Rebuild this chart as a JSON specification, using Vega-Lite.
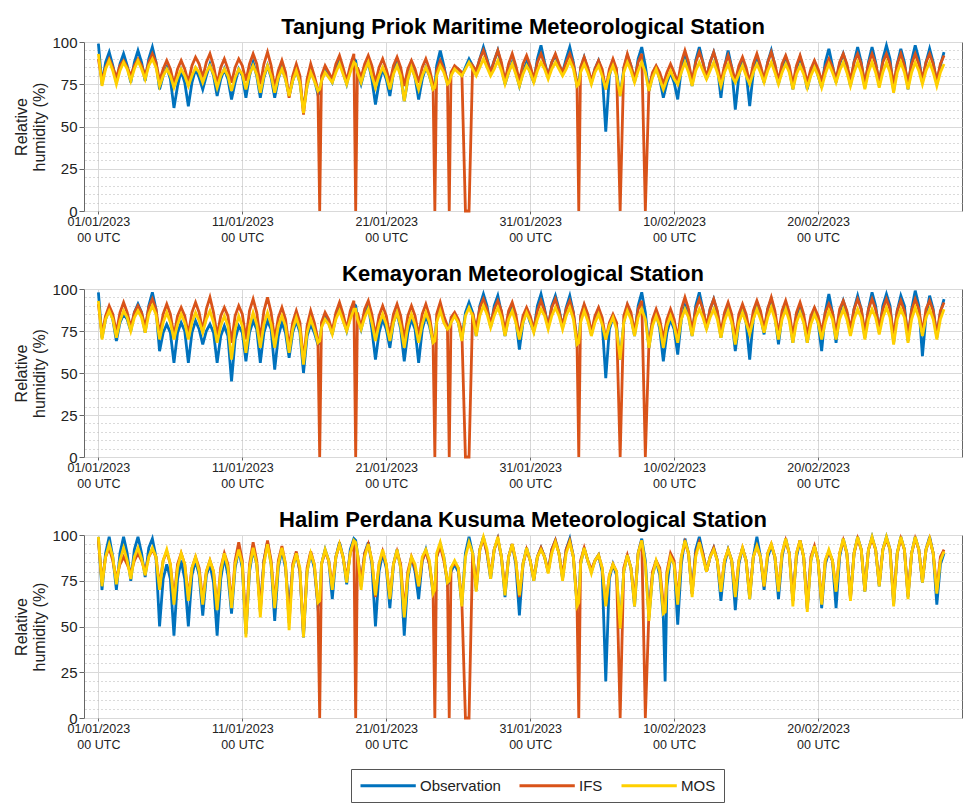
{
"$schema": "https://vega.github.io/schema/vega-lite/v6.json",
"background": "white",
"padding": {"left": 13, "top": 15, "right": 5, "bottom": 5},
"spacing": 18,
"config": {
 "font": "Liberation Sans",
 "view": {"stroke": "#666", "strokeWidth": 1},
 "axis": {"domain": false, "gridColor": "#d9d9d9", "gridWidth": 1, "tickColor": "#666", "labelColor": "#222", "titleColor": "#222"},
 "title": {"fontSize": 22, "fontWeight": "bold", "color": "#000", "offset": 0, "dy": 8},
 "legend": {"symbolType": "M-1,0H6.9", "symbolSize": 196, "symbolStrokeWidth": 2.8, "labelFontSize": 15, "labelColor": "#222", "strokeColor": "#555", "padding": 8, "fillColor": "white", "columnPadding": 12, "labelOffset": 44}
},
"datasets": {
"tp": [
{"d":0,"o":99,"i":90,"m":93},{"d":0.25,"o":75,"i":77,"m":74},{"d":0.5,"o":88,"i":85,"m":84},{"d":0.75,"o":94,"i":90,"m":89},
{"d":1,"o":86,"i":85,"m":83},{"d":1.25,"o":76,"i":79,"m":75},{"d":1.5,"o":87,"i":86,"m":83},{"d":1.75,"o":93,"i":89,"m":88},
{"d":2,"o":86,"i":85,"m":84},{"d":2.25,"o":76,"i":80,"m":77},{"d":2.5,"o":88,"i":86,"m":84},{"d":2.75,"o":95,"i":90,"m":89},
{"d":3,"o":88,"i":86,"m":84},{"d":3.25,"o":77,"i":80,"m":78},{"d":3.5,"o":90,"i":88,"m":86},{"d":3.75,"o":97,"i":93,"m":90},
{"d":4,"o":88,"i":88,"m":85},{"d":4.25,"o":72,"i":77,"m":74},{"d":4.5,"o":80,"i":84,"m":80},{"d":4.75,"o":85,"i":89,"m":84},
{"d":5,"o":78,"i":84,"m":80},{"d":5.25,"o":61,"i":75,"m":73},{"d":5.5,"o":74,"i":84,"m":79},{"d":5.75,"o":83,"i":89,"m":84},
{"d":6,"o":76,"i":84,"m":80},{"d":6.25,"o":62,"i":76,"m":74},{"d":6.5,"o":76,"i":86,"m":80},{"d":6.75,"o":84,"i":91,"m":85},
{"d":7,"o":79,"i":87,"m":82},{"d":7.25,"o":72,"i":79,"m":76},{"d":7.5,"o":80,"i":88,"m":82},{"d":7.75,"o":87,"i":93,"m":86},
{"d":8,"o":80,"i":86,"m":81},{"d":8.25,"o":68,"i":75,"m":73},{"d":8.5,"o":78,"i":85,"m":80},{"d":8.75,"o":84,"i":90,"m":84},
{"d":9,"o":78,"i":84,"m":80},{"d":9.25,"o":66,"i":76,"m":71},{"d":9.5,"o":76,"i":85,"m":79},{"d":9.75,"o":84,"i":90,"m":84},
{"d":10,"o":80,"i":86,"m":81},{"d":10.25,"o":67,"i":77,"m":72},{"d":10.5,"o":80,"i":87,"m":81},{"d":10.75,"o":88,"i":93,"m":86},
{"d":11,"o":80,"i":87,"m":81},{"d":11.25,"o":67,"i":75,"m":70},{"d":11.5,"o":79,"i":87,"m":80},{"d":11.75,"o":86,"i":94,"m":86},
{"d":12,"o":79,"i":86,"m":80},{"d":12.25,"o":67,"i":73,"m":70},{"d":12.5,"o":78,"i":83,"m":79},{"d":12.75,"o":85,"i":89,"m":84},
{"d":13,"o":78,"i":82,"m":78},{"d":13.25,"o":68,"i":67,"m":68},{"d":13.5,"o":77,"i":80,"m":77},{"d":13.75,"o":83,"i":87,"m":83},
{"d":14,"o":76,"i":80,"m":76},{"d":14.25,"o":60,"i":57,"m":58},{"d":14.5,"o":74,"i":78,"m":74},{"d":14.75,"o":82,"i":87,"m":82},
{"d":15,"o":78,"i":80,"m":77},{"d":15.25,"o":69,"i":72,"m":71},{"d":15.375,"o":70,"i":0,"m":72},{"d":15.5,"o":77,"i":80,"m":77},{"d":15.75,"o":83,"i":86,"m":82},
{"d":16,"o":80,"i":82,"m":79},{"d":16.25,"o":76,"i":78,"m":76},{"d":16.5,"o":84,"i":87,"m":82},{"d":16.75,"o":89,"i":92,"m":87},
{"d":17,"o":82,"i":85,"m":81},{"d":17.25,"o":75,"i":77,"m":75},{"d":17.5,"o":84,"i":86,"m":82},{"d":17.75,"o":90,"i":93,"m":88},{"d":17.875,"o":89,"i":0,"m":87},
{"d":18,"o":82,"i":85,"m":82},{"d":18.25,"o":75,"i":79,"m":76},{"d":18.5,"o":83,"i":87,"m":83},{"d":18.75,"o":88,"i":92,"m":88},
{"d":19,"o":78,"i":86,"m":80},{"d":19.25,"o":63,"i":76,"m":73},{"d":19.5,"o":76,"i":85,"m":80},{"d":19.75,"o":84,"i":90,"m":85},
{"d":20,"o":78,"i":84,"m":80},{"d":20.25,"o":68,"i":76,"m":72},{"d":20.5,"o":82,"i":86,"m":81},{"d":20.75,"o":89,"i":91,"m":86},
{"d":21,"o":80,"i":85,"m":80},{"d":21.25,"o":65,"i":74,"m":65},{"d":21.5,"o":78,"i":84,"m":78},{"d":21.75,"o":86,"i":89,"m":85},
{"d":22,"o":79,"i":84,"m":79},{"d":22.25,"o":66,"i":76,"m":72},{"d":22.5,"o":78,"i":85,"m":80},{"d":22.75,"o":85,"i":90,"m":85},
{"d":23,"o":80,"i":84,"m":80},{"d":23.25,"o":72,"i":75,"m":72},{"d":23.375,"o":73,"i":0,"m":73},{"d":23.5,"o":86,"i":83,"m":80},{"d":23.75,"o":95,"i":89,"m":86},
{"d":24,"o":86,"i":84,"m":82},{"d":24.25,"o":75,"i":77,"m":75},{"d":24.375,"o":76,"i":0,"m":76},{"d":24.5,"o":81,"i":82,"m":80},{"d":24.75,"o":85,"i":86,"m":84},
{"d":25,"o":84,"i":84,"m":82},{"d":25.25,"o":80,"i":82,"m":80},{"d":25.5,"o":85,"i":0,"m":84},{"d":25.75,"o":90,"i":0,"m":88},
{"d":26,"o":86,"i":86,"m":84},{"d":26.25,"o":82,"i":83,"m":80},{"d":26.5,"o":90,"i":90,"m":85},{"d":26.75,"o":97,"i":95,"m":90},
{"d":27,"o":90,"i":89,"m":85},{"d":27.25,"o":82,"i":82,"m":80},{"d":27.5,"o":89,"i":89,"m":84},{"d":27.75,"o":95,"i":95,"m":89},
{"d":28,"o":86,"i":88,"m":83},{"d":28.25,"o":75,"i":77,"m":75},{"d":28.5,"o":82,"i":87,"m":82},{"d":28.75,"o":88,"i":93,"m":87},
{"d":29,"o":82,"i":86,"m":81},{"d":29.25,"o":74,"i":77,"m":74},{"d":29.5,"o":82,"i":87,"m":81},{"d":29.75,"o":88,"i":92,"m":86},
{"d":30,"o":82,"i":86,"m":82},{"d":30.25,"o":76,"i":78,"m":76},{"d":30.5,"o":90,"i":88,"m":83},{"d":30.75,"o":98,"i":93,"m":88},
{"d":31,"o":88,"i":87,"m":84},{"d":31.25,"o":80,"i":80,"m":78},{"d":31.5,"o":88,"i":88,"m":84},{"d":31.75,"o":92,"i":93,"m":88},
{"d":32,"o":86,"i":87,"m":84},{"d":32.25,"o":82,"i":82,"m":80},{"d":32.5,"o":90,"i":88,"m":84},{"d":32.75,"o":97,"i":93,"m":89},
{"d":33,"o":88,"i":87,"m":84},{"d":33.25,"o":74,"i":76,"m":74},{"d":33.375,"o":76,"i":0,"m":75},{"d":33.5,"o":84,"i":85,"m":82},{"d":33.75,"o":91,"i":91,"m":87},
{"d":34,"o":84,"i":85,"m":82},{"d":34.25,"o":76,"i":77,"m":75},{"d":34.5,"o":84,"i":84,"m":82},{"d":34.75,"o":89,"i":89,"m":86},
{"d":35,"o":82,"i":84,"m":80},{"d":35.25,"o":47,"i":72,"m":72},{"d":35.5,"o":80,"i":84,"m":81},{"d":35.75,"o":88,"i":90,"m":86},
{"d":36,"o":82,"i":84,"m":80},{"d":36.25,"o":68,"i":0,"m":68},{"d":36.5,"o":84,"i":85,"m":82},{"d":36.75,"o":92,"i":93,"m":88},
{"d":37,"o":86,"i":86,"m":83},{"d":37.25,"o":76,"i":78,"m":76},{"d":37.5,"o":90,"i":88,"m":83},{"d":37.75,"o":97,"i":93,"m":88},
{"d":38,"o":86,"i":0,"m":82},{"d":38.25,"o":71,"i":73,"m":71},{"d":38.5,"o":80,"i":82,"m":79},{"d":38.75,"o":85,"i":86,"m":84},
{"d":39,"o":78,"i":82,"m":78},{"d":39.25,"o":67,"i":75,"m":72},{"d":39.5,"o":76,"i":82,"m":78},{"d":39.75,"o":82,"i":87,"m":83},
{"d":40,"o":76,"i":82,"m":78},{"d":40.25,"o":66,"i":76,"m":75},{"d":40.5,"o":84,"i":88,"m":82},{"d":40.75,"o":93,"i":95,"m":88},
{"d":41,"o":86,"i":88,"m":82},{"d":41.25,"o":74,"i":77,"m":74},{"d":41.5,"o":89,"i":88,"m":83},{"d":41.75,"o":97,"i":94,"m":88},
{"d":42,"o":88,"i":88,"m":83},{"d":42.25,"o":78,"i":79,"m":78},{"d":42.5,"o":88,"i":88,"m":83},{"d":42.75,"o":94,"i":94,"m":88},
{"d":43,"o":86,"i":87,"m":82},{"d":43.25,"o":67,"i":76,"m":74},{"d":43.5,"o":85,"i":86,"m":82},{"d":43.75,"o":95,"i":92,"m":87},
{"d":44,"o":85,"i":85,"m":80},{"d":44.25,"o":60,"i":77,"m":76},{"d":44.5,"o":80,"i":86,"m":81},{"d":44.75,"o":90,"i":91,"m":86},
{"d":45,"o":82,"i":85,"m":80},{"d":45.25,"o":62,"i":76,"m":75},{"d":45.5,"o":82,"i":87,"m":82},{"d":45.75,"o":92,"i":93,"m":87},
{"d":46,"o":84,"i":86,"m":82},{"d":46.25,"o":76,"i":78,"m":76},{"d":46.5,"o":88,"i":88,"m":83},{"d":46.75,"o":95,"i":94,"m":88},
{"d":47,"o":86,"i":87,"m":82},{"d":47.25,"o":75,"i":77,"m":75},{"d":47.5,"o":85,"i":87,"m":82},{"d":47.75,"o":91,"i":92,"m":87},
{"d":48,"o":84,"i":86,"m":82},{"d":48.25,"o":72,"i":75,"m":72},{"d":48.5,"o":84,"i":86,"m":81},{"d":48.75,"o":91,"i":92,"m":86},
{"d":49,"o":83,"i":85,"m":81},{"d":49.25,"o":72,"i":76,"m":73},{"d":49.5,"o":82,"i":84,"m":80},{"d":49.75,"o":88,"i":89,"m":85},
{"d":50,"o":80,"i":84,"m":80},{"d":50.25,"o":73,"i":77,"m":73},{"d":50.5,"o":88,"i":85,"m":81},{"d":50.75,"o":96,"i":90,"m":87},
{"d":51,"o":86,"i":85,"m":82},{"d":51.25,"o":76,"i":78,"m":76},{"d":51.5,"o":87,"i":88,"m":83},{"d":51.75,"o":93,"i":93,"m":88},
{"d":52,"o":86,"i":87,"m":82},{"d":52.25,"o":74,"i":77,"m":74},{"d":52.5,"o":88,"i":88,"m":82},{"d":52.75,"o":97,"i":93,"m":88},
{"d":53,"o":88,"i":87,"m":82},{"d":53.25,"o":73,"i":76,"m":72},{"d":53.5,"o":88,"i":87,"m":82},{"d":53.75,"o":97,"i":93,"m":88},
{"d":54,"o":88,"i":87,"m":82},{"d":54.25,"o":74,"i":77,"m":73},{"d":54.5,"o":90,"i":88,"m":82},{"d":54.75,"o":98,"i":93,"m":88},
{"d":55,"o":90,"i":87,"m":82},{"d":55.25,"o":71,"i":75,"m":70},{"d":55.5,"o":87,"i":87,"m":82},{"d":55.75,"o":96,"i":93,"m":88},
{"d":56,"o":88,"i":86,"m":82},{"d":56.25,"o":72,"i":76,"m":72},{"d":56.5,"o":89,"i":87,"m":82},{"d":56.75,"o":98,"i":93,"m":88},
{"d":57,"o":90,"i":87,"m":83},{"d":57.25,"o":76,"i":78,"m":75},{"d":57.5,"o":88,"i":88,"m":83},{"d":57.75,"o":96,"i":93,"m":88},
{"d":58,"o":88,"i":87,"m":82},{"d":58.25,"o":75,"i":77,"m":74},{"d":58.5,"o":86,"i":87,"m":82},{"d":58.75,"o":94,"i":92,"m":87}
],
"km": [
{"d":0,"o":98,"i":91,"m":93},{"d":0.25,"o":71,"i":73,"m":70},{"d":0.5,"o":82,"i":84,"m":82},{"d":0.75,"o":88,"i":90,"m":87},
{"d":1,"o":82,"i":85,"m":82},{"d":1.25,"o":69,"i":74,"m":71},{"d":1.5,"o":80,"i":86,"m":81},{"d":1.75,"o":85,"i":92,"m":87},
{"d":2,"o":82,"i":86,"m":83},{"d":2.25,"o":75,"i":77,"m":75},{"d":2.5,"o":86,"i":86,"m":83},{"d":2.75,"o":91,"i":90,"m":87},
{"d":3,"o":86,"i":86,"m":83},{"d":3.25,"o":74,"i":77,"m":74},{"d":3.5,"o":90,"i":89,"m":85},{"d":3.75,"o":98,"i":94,"m":90},
{"d":4,"o":88,"i":88,"m":85},{"d":4.25,"o":63,"i":73,"m":70},{"d":4.5,"o":74,"i":85,"m":80},{"d":4.75,"o":79,"i":91,"m":86},
{"d":5,"o":74,"i":85,"m":80},{"d":5.25,"o":56,"i":72,"m":70},{"d":5.5,"o":74,"i":84,"m":79},{"d":5.75,"o":80,"i":89,"m":85},
{"d":6,"o":75,"i":84,"m":80},{"d":6.25,"o":56,"i":73,"m":70},{"d":6.5,"o":74,"i":86,"m":80},{"d":6.75,"o":81,"i":92,"m":86},
{"d":7,"o":76,"i":86,"m":81},{"d":7.25,"o":67,"i":75,"m":74},{"d":7.5,"o":75,"i":88,"m":82},{"d":7.75,"o":79,"i":95,"m":87},
{"d":8,"o":74,"i":86,"m":80},{"d":8.25,"o":56,"i":72,"m":68},{"d":8.5,"o":72,"i":84,"m":78},{"d":8.75,"o":78,"i":89,"m":84},
{"d":9,"o":72,"i":84,"m":78},{"d":9.25,"o":45,"i":68,"m":58},{"d":9.5,"o":70,"i":84,"m":76},{"d":9.75,"o":78,"i":90,"m":84},
{"d":10,"o":74,"i":85,"m":78},{"d":10.25,"o":57,"i":70,"m":62},{"d":10.5,"o":74,"i":87,"m":78},{"d":10.75,"o":81,"i":94,"m":86},
{"d":11,"o":76,"i":86,"m":79},{"d":11.25,"o":56,"i":70,"m":65},{"d":11.5,"o":74,"i":87,"m":79},{"d":11.75,"o":81,"i":95,"m":86},
{"d":12,"o":76,"i":86,"m":79},{"d":12.25,"o":52,"i":70,"m":65},{"d":12.5,"o":72,"i":83,"m":78},{"d":12.75,"o":80,"i":89,"m":84},
{"d":13,"o":74,"i":82,"m":78},{"d":13.25,"o":59,"i":65,"m":62},{"d":13.5,"o":74,"i":80,"m":76},{"d":13.75,"o":81,"i":87,"m":83},
{"d":14,"o":74,"i":80,"m":76},{"d":14.25,"o":50,"i":57,"m":55},{"d":14.5,"o":72,"i":78,"m":74},{"d":14.75,"o":79,"i":87,"m":82},
{"d":15,"o":74,"i":80,"m":76},{"d":15.25,"o":67,"i":70,"m":68},{"d":15.375,"o":68,"i":0,"m":69},{"d":15.5,"o":78,"i":80,"m":77},{"d":15.75,"o":84,"i":86,"m":82},
{"d":16,"o":80,"i":82,"m":79},{"d":16.25,"o":73,"i":75,"m":73},{"d":16.5,"o":84,"i":86,"m":82},{"d":16.75,"o":90,"i":92,"m":87},
{"d":17,"o":82,"i":85,"m":81},{"d":17.25,"o":75,"i":76,"m":75},{"d":17.5,"o":85,"i":87,"m":82},{"d":17.75,"o":91,"i":93,"m":88},{"d":17.875,"o":90,"i":0,"m":88},
{"d":18,"o":83,"i":86,"m":82},{"d":18.25,"o":76,"i":77,"m":76},{"d":18.5,"o":85,"i":88,"m":83},{"d":18.75,"o":90,"i":93,"m":88},
{"d":19,"o":76,"i":85,"m":80},{"d":19.25,"o":58,"i":72,"m":69},{"d":19.5,"o":74,"i":84,"m":79},{"d":19.75,"o":82,"i":90,"m":85},
{"d":20,"o":76,"i":84,"m":79},{"d":20.25,"o":65,"i":72,"m":69},{"d":20.5,"o":80,"i":85,"m":80},{"d":20.75,"o":86,"i":91,"m":86},
{"d":21,"o":76,"i":84,"m":78},{"d":21.25,"o":57,"i":70,"m":65},{"d":21.5,"o":74,"i":84,"m":78},{"d":21.75,"o":82,"i":90,"m":85},
{"d":22,"o":76,"i":84,"m":79},{"d":22.25,"o":56,"i":72,"m":68},{"d":22.5,"o":76,"i":85,"m":79},{"d":22.75,"o":84,"i":91,"m":86},
{"d":23,"o":78,"i":84,"m":80},{"d":23.25,"o":68,"i":70,"m":68},{"d":23.375,"o":69,"i":0,"m":69},{"d":23.5,"o":82,"i":85,"m":80},{"d":23.75,"o":88,"i":92,"m":87},
{"d":24,"o":82,"i":84,"m":80},{"d":24.25,"o":76,"i":78,"m":76},{"d":24.375,"o":77,"i":0,"m":77},{"d":24.5,"o":82,"i":83,"m":80},{"d":24.75,"o":85,"i":86,"m":84},
{"d":25,"o":80,"i":82,"m":80},{"d":25.25,"o":70,"i":75,"m":69},{"d":25.5,"o":86,"i":0,"m":84},{"d":25.75,"o":92,"i":0,"m":89},
{"d":26,"o":86,"i":86,"m":84},{"d":26.25,"o":72,"i":76,"m":72},{"d":26.5,"o":90,"i":89,"m":84},{"d":26.75,"o":97,"i":94,"m":90},
{"d":27,"o":90,"i":88,"m":85},{"d":27.25,"o":77,"i":79,"m":77},{"d":27.5,"o":90,"i":88,"m":84},{"d":27.75,"o":96,"i":93,"m":89},
{"d":28,"o":86,"i":87,"m":83},{"d":28.25,"o":72,"i":75,"m":72},{"d":28.5,"o":84,"i":87,"m":82},{"d":28.75,"o":90,"i":92,"m":87},
{"d":29,"o":82,"i":85,"m":80},{"d":29.25,"o":64,"i":72,"m":70},{"d":29.5,"o":80,"i":84,"m":80},{"d":29.75,"o":87,"i":89,"m":86},
{"d":30,"o":80,"i":84,"m":81},{"d":30.25,"o":75,"i":76,"m":74},{"d":30.5,"o":90,"i":87,"m":82},{"d":30.75,"o":97,"i":93,"m":88},
{"d":31,"o":88,"i":87,"m":84},{"d":31.25,"o":77,"i":78,"m":76},{"d":31.5,"o":90,"i":89,"m":84},{"d":31.75,"o":96,"i":94,"m":89},
{"d":32,"o":88,"i":87,"m":84},{"d":32.25,"o":77,"i":78,"m":76},{"d":32.5,"o":89,"i":88,"m":84},{"d":32.75,"o":96,"i":93,"m":89},
{"d":33,"o":86,"i":86,"m":82},{"d":33.25,"o":67,"i":70,"m":67},{"d":33.375,"o":69,"i":0,"m":68},{"d":33.5,"o":82,"i":84,"m":80},{"d":33.75,"o":90,"i":91,"m":87},
{"d":34,"o":84,"i":85,"m":81},{"d":34.25,"o":73,"i":74,"m":72},{"d":34.5,"o":82,"i":84,"m":80},{"d":34.75,"o":88,"i":89,"m":85},
{"d":35,"o":80,"i":83,"m":79},{"d":35.25,"o":47,"i":70,"m":70},{"d":35.5,"o":76,"i":80,"m":78},{"d":35.75,"o":83,"i":85,"m":83},
{"d":36,"o":78,"i":80,"m":76},{"d":36.25,"o":58,"i":0,"m":58},{"d":36.5,"o":80,"i":84,"m":80},{"d":36.75,"o":90,"i":91,"m":87},
{"d":37,"o":84,"i":86,"m":82},{"d":37.25,"o":72,"i":74,"m":72},{"d":37.5,"o":90,"i":88,"m":83},{"d":37.75,"o":98,"i":93,"m":88},
{"d":38,"o":86,"i":0,"m":82},{"d":38.25,"o":65,"i":68,"m":65},{"d":38.5,"o":80,"i":82,"m":78},{"d":38.75,"o":86,"i":88,"m":84},
{"d":39,"o":76,"i":82,"m":78},{"d":39.25,"o":57,"i":70,"m":65},{"d":39.5,"o":74,"i":82,"m":78},{"d":39.75,"o":82,"i":88,"m":84},
{"d":40,"o":76,"i":82,"m":78},{"d":40.25,"o":61,"i":70,"m":68},{"d":40.5,"o":82,"i":88,"m":82},{"d":40.75,"o":90,"i":95,"m":88},
{"d":41,"o":84,"i":88,"m":83},{"d":41.25,"o":72,"i":75,"m":72},{"d":41.5,"o":90,"i":88,"m":83},{"d":41.75,"o":98,"i":94,"m":88},
{"d":42,"o":88,"i":88,"m":83},{"d":42.25,"o":76,"i":78,"m":76},{"d":42.5,"o":88,"i":88,"m":83},{"d":42.75,"o":94,"i":94,"m":88},
{"d":43,"o":86,"i":87,"m":82},{"d":43.25,"o":71,"i":74,"m":71},{"d":43.5,"o":84,"i":86,"m":81},{"d":43.75,"o":90,"i":92,"m":87},
{"d":44,"o":82,"i":85,"m":80},{"d":44.25,"o":63,"i":70,"m":67},{"d":44.5,"o":80,"i":85,"m":80},{"d":44.75,"o":88,"i":91,"m":86},
{"d":45,"o":80,"i":85,"m":80},{"d":45.25,"o":58,"i":74,"m":73},{"d":45.5,"o":82,"i":87,"m":82},{"d":45.75,"o":90,"i":93,"m":88},
{"d":46,"o":84,"i":87,"m":82},{"d":46.25,"o":73,"i":76,"m":74},{"d":46.5,"o":88,"i":88,"m":83},{"d":46.75,"o":94,"i":95,"m":89},
{"d":47,"o":84,"i":87,"m":82},{"d":47.25,"o":67,"i":73,"m":70},{"d":47.5,"o":84,"i":87,"m":82},{"d":47.75,"o":91,"i":93,"m":88},
{"d":48,"o":84,"i":86,"m":81},{"d":48.25,"o":68,"i":72,"m":68},{"d":48.5,"o":84,"i":86,"m":80},{"d":48.75,"o":90,"i":92,"m":86},
{"d":49,"o":82,"i":85,"m":80},{"d":49.25,"o":68,"i":72,"m":68},{"d":49.5,"o":82,"i":84,"m":79},{"d":49.75,"o":88,"i":89,"m":85},
{"d":50,"o":80,"i":84,"m":80},{"d":50.25,"o":63,"i":74,"m":70},{"d":50.5,"o":86,"i":86,"m":80},{"d":50.75,"o":97,"i":91,"m":87},
{"d":51,"o":86,"i":86,"m":82},{"d":51.25,"o":68,"i":74,"m":70},{"d":51.5,"o":86,"i":88,"m":82},{"d":51.75,"o":93,"i":93,"m":88},
{"d":52,"o":86,"i":87,"m":82},{"d":52.25,"o":73,"i":76,"m":72},{"d":52.5,"o":88,"i":88,"m":82},{"d":52.75,"o":96,"i":94,"m":88},
{"d":53,"o":88,"i":88,"m":83},{"d":53.25,"o":71,"i":74,"m":70},{"d":53.5,"o":88,"i":88,"m":82},{"d":53.75,"o":98,"i":94,"m":88},
{"d":54,"o":90,"i":88,"m":83},{"d":54.25,"o":74,"i":77,"m":73},{"d":54.5,"o":90,"i":88,"m":83},{"d":54.75,"o":97,"i":94,"m":89},
{"d":55,"o":90,"i":88,"m":83},{"d":55.25,"o":68,"i":72,"m":67},{"d":55.5,"o":87,"i":87,"m":82},{"d":55.75,"o":96,"i":93,"m":88},
{"d":56,"o":90,"i":87,"m":83},{"d":56.25,"o":69,"i":73,"m":68},{"d":56.5,"o":88,"i":87,"m":82},{"d":56.75,"o":99,"i":94,"m":89},
{"d":57,"o":90,"i":88,"m":83},{"d":57.25,"o":60,"i":74,"m":72},{"d":57.5,"o":84,"i":88,"m":83},{"d":57.75,"o":96,"i":93,"m":88},
{"d":58,"o":88,"i":87,"m":82},{"d":58.25,"o":71,"i":73,"m":70},{"d":58.5,"o":86,"i":87,"m":82},{"d":58.75,"o":94,"i":92,"m":88}
],
"hp": [
{"d":0,"o":99,"i":97,"m":99},{"d":0.25,"o":70,"i":74,"m":72},{"d":0.5,"o":90,"i":88,"m":88},{"d":0.75,"o":99,"i":93,"m":95},
{"d":1,"o":88,"i":86,"m":88},{"d":1.25,"o":70,"i":76,"m":73},{"d":1.5,"o":90,"i":84,"m":86},{"d":1.75,"o":99,"i":88,"m":93},
{"d":2,"o":90,"i":84,"m":86},{"d":2.25,"o":75,"i":79,"m":76},{"d":2.5,"o":92,"i":86,"m":88},{"d":2.75,"o":99,"i":90,"m":93},
{"d":3,"o":90,"i":86,"m":87},{"d":3.25,"o":77,"i":80,"m":78},{"d":3.5,"o":93,"i":88,"m":88},{"d":3.75,"o":98,"i":92,"m":93},
{"d":4,"o":88,"i":88,"m":88},{"d":4.25,"o":50,"i":72,"m":70},{"d":4.5,"o":76,"i":86,"m":86},{"d":4.75,"o":84,"i":91,"m":92},
{"d":5,"o":76,"i":84,"m":84},{"d":5.25,"o":45,"i":65,"m":62},{"d":5.5,"o":76,"i":84,"m":82},{"d":5.75,"o":86,"i":90,"m":90},
{"d":6,"o":76,"i":84,"m":84},{"d":6.25,"o":50,"i":66,"m":64},{"d":6.5,"o":78,"i":82,"m":82},{"d":6.75,"o":86,"i":88,"m":88},
{"d":7,"o":78,"i":82,"m":80},{"d":7.25,"o":56,"i":64,"m":62},{"d":7.5,"o":78,"i":80,"m":80},{"d":7.75,"o":84,"i":86,"m":86},
{"d":8,"o":74,"i":80,"m":80},{"d":8.25,"o":45,"i":60,"m":59},{"d":8.5,"o":76,"i":82,"m":80},{"d":8.75,"o":88,"i":90,"m":90},
{"d":9,"o":78,"i":84,"m":82},{"d":9.25,"o":57,"i":62,"m":60},{"d":9.5,"o":82,"i":86,"m":84},{"d":9.75,"o":92,"i":96,"m":92},
{"d":10,"o":82,"i":86,"m":84},{"d":10.25,"o":46,"i":48,"m":44},{"d":10.5,"o":80,"i":84,"m":82},{"d":10.75,"o":92,"i":96,"m":93},
{"d":11,"o":84,"i":86,"m":84},{"d":11.25,"o":60,"i":58,"m":55},{"d":11.5,"o":86,"i":86,"m":84},{"d":11.75,"o":96,"i":97,"m":95},
{"d":12,"o":84,"i":86,"m":84},{"d":12.25,"o":53,"i":62,"m":60},{"d":12.5,"o":82,"i":86,"m":84},{"d":12.75,"o":92,"i":94,"m":93},
{"d":13,"o":82,"i":84,"m":84},{"d":13.25,"o":59,"i":52,"m":48},{"d":13.5,"o":82,"i":84,"m":82},{"d":13.75,"o":90,"i":91,"m":90},
{"d":14,"o":80,"i":80,"m":82},{"d":14.25,"o":44,"i":46,"m":44},{"d":14.5,"o":80,"i":82,"m":80},{"d":14.75,"o":90,"i":91,"m":90},
{"d":15,"o":82,"i":84,"m":84},{"d":15.25,"o":61,"i":62,"m":63},{"d":15.375,"o":63,"i":0,"m":64},{"d":15.5,"o":84,"i":84,"m":84},{"d":15.75,"o":92,"i":91,"m":92},
{"d":16,"o":86,"i":86,"m":86},{"d":16.25,"o":65,"i":72,"m":70},{"d":16.5,"o":88,"i":88,"m":88},{"d":16.75,"o":96,"i":95,"m":95},
{"d":17,"o":88,"i":88,"m":88},{"d":17.25,"o":73,"i":76,"m":74},{"d":17.5,"o":92,"i":90,"m":90},{"d":17.75,"o":98,"i":97,"m":97},{"d":17.875,"o":97,"i":0,"m":96},
{"d":18,"o":90,"i":90,"m":90},{"d":18.25,"o":72,"i":74,"m":70},{"d":18.5,"o":90,"i":90,"m":88},{"d":18.75,"o":96,"i":95,"m":95},
{"d":19,"o":84,"i":86,"m":86},{"d":19.25,"o":50,"i":66,"m":67},{"d":19.5,"o":80,"i":84,"m":84},{"d":19.75,"o":90,"i":91,"m":92},
{"d":20,"o":82,"i":84,"m":84},{"d":20.25,"o":60,"i":66,"m":65},{"d":20.5,"o":84,"i":84,"m":84},{"d":20.75,"o":92,"i":91,"m":92},
{"d":21,"o":82,"i":84,"m":82},{"d":21.25,"o":45,"i":58,"m":55},{"d":21.5,"o":76,"i":80,"m":78},{"d":21.75,"o":88,"i":88,"m":88},
{"d":22,"o":80,"i":82,"m":84},{"d":22.25,"o":65,"i":72,"m":72},{"d":22.5,"o":86,"i":86,"m":88},{"d":22.75,"o":92,"i":91,"m":92},
{"d":23,"o":84,"i":84,"m":86},{"d":23.25,"o":68,"i":70,"m":68},{"d":23.375,"o":70,"i":0,"m":70},{"d":23.5,"o":88,"i":88,"m":90},{"d":23.75,"o":95,"i":94,"m":96},
{"d":24,"o":88,"i":86,"m":88},{"d":24.25,"o":73,"i":75,"m":74},{"d":24.375,"o":74,"i":0,"m":75},{"d":24.5,"o":80,"i":82,"m":82},{"d":24.75,"o":84,"i":85,"m":86},
{"d":25,"o":80,"i":82,"m":82},{"d":25.25,"o":62,"i":64,"m":61},{"d":25.5,"o":90,"i":0,"m":88},{"d":25.75,"o":99,"i":0,"m":96},
{"d":26,"o":90,"i":90,"m":90},{"d":26.25,"o":70,"i":72,"m":69},{"d":26.5,"o":92,"i":92,"m":92},{"d":26.75,"o":99,"i":98,"m":99},
{"d":27,"o":90,"i":90,"m":92},{"d":27.25,"o":76,"i":78,"m":76},{"d":27.5,"o":92,"i":92,"m":92},{"d":27.75,"o":98,"i":98,"m":99},
{"d":28,"o":88,"i":88,"m":88},{"d":28.25,"o":66,"i":70,"m":67},{"d":28.5,"o":88,"i":88,"m":88},{"d":28.75,"o":95,"i":95,"m":95},
{"d":29,"o":84,"i":86,"m":86},{"d":29.25,"o":56,"i":66,"m":67},{"d":29.5,"o":84,"i":84,"m":84},{"d":29.75,"o":93,"i":92,"m":93},
{"d":30,"o":86,"i":86,"m":86},{"d":30.25,"o":75,"i":76,"m":75},{"d":30.5,"o":88,"i":88,"m":88},{"d":30.75,"o":93,"i":93,"m":92},
{"d":31,"o":88,"i":88,"m":88},{"d":31.25,"o":80,"i":80,"m":79},{"d":31.5,"o":92,"i":92,"m":90},{"d":31.75,"o":97,"i":97,"m":96},
{"d":32,"o":90,"i":90,"m":90},{"d":32.25,"o":76,"i":77,"m":75},{"d":32.5,"o":92,"i":92,"m":90},{"d":32.75,"o":98,"i":97,"m":96},
{"d":33,"o":88,"i":88,"m":88},{"d":33.25,"o":62,"i":64,"m":61},{"d":33.375,"o":64,"i":0,"m":63},{"d":33.5,"o":84,"i":86,"m":84},{"d":33.75,"o":93,"i":93,"m":93},
{"d":34,"o":86,"i":86,"m":86},{"d":34.25,"o":80,"i":81,"m":79},{"d":34.5,"o":86,"i":86,"m":86},{"d":34.75,"o":89,"i":89,"m":89},
{"d":35,"o":80,"i":82,"m":82},{"d":35.25,"o":20,"i":62,"m":61},{"d":35.5,"o":76,"i":78,"m":78},{"d":35.75,"o":84,"i":84,"m":84},
{"d":36,"o":78,"i":80,"m":80},{"d":36.25,"o":49,"i":0,"m":49},{"d":36.5,"o":80,"i":82,"m":80},{"d":36.75,"o":89,"i":89,"m":89},
{"d":37,"o":82,"i":82,"m":82},{"d":37.25,"o":61,"i":64,"m":61},{"d":37.5,"o":90,"i":90,"m":90},{"d":37.75,"o":98,"i":97,"m":97},
{"d":38,"o":86,"i":0,"m":84},{"d":38.25,"o":55,"i":58,"m":53},{"d":38.5,"o":78,"i":80,"m":78},{"d":38.75,"o":86,"i":86,"m":86},
{"d":39,"o":78,"i":82,"m":80},{"d":39.25,"o":55,"i":62,"m":57},{"d":39.375,"o":20,"i":60,"m":58},{"d":39.5,"o":72,"i":80,"m":78},{"d":39.75,"o":88,"i":90,"m":88},
{"d":40,"o":84,"i":86,"m":84},{"d":40.25,"o":51,"i":64,"m":62},{"d":40.5,"o":84,"i":88,"m":88},{"d":40.75,"o":98,"i":96,"m":97},
{"d":41,"o":90,"i":90,"m":90},{"d":41.25,"o":68,"i":68,"m":66},{"d":41.5,"o":92,"i":90,"m":88},{"d":41.75,"o":99,"i":96,"m":96},
{"d":42,"o":90,"i":90,"m":88},{"d":42.25,"o":80,"i":80,"m":80},{"d":42.5,"o":88,"i":88,"m":88},{"d":42.75,"o":93,"i":93,"m":92},
{"d":43,"o":86,"i":86,"m":86},{"d":43.25,"o":64,"i":70,"m":69},{"d":43.5,"o":84,"i":86,"m":86},{"d":43.75,"o":92,"i":92,"m":92},
{"d":44,"o":86,"i":86,"m":86},{"d":44.25,"o":59,"i":68,"m":66},{"d":44.5,"o":84,"i":86,"m":86},{"d":44.75,"o":93,"i":93,"m":93},
{"d":45,"o":86,"i":86,"m":86},{"d":45.25,"o":65,"i":67,"m":65},{"d":45.5,"o":88,"i":88,"m":88},{"d":45.75,"o":99,"i":94,"m":94},
{"d":46,"o":88,"i":88,"m":88},{"d":46.25,"o":70,"i":72,"m":72},{"d":46.5,"o":88,"i":90,"m":90},{"d":46.75,"o":94,"i":95,"m":95},
{"d":47,"o":88,"i":88,"m":88},{"d":47.25,"o":65,"i":70,"m":69},{"d":47.5,"o":88,"i":90,"m":90},{"d":47.75,"o":98,"i":97,"m":98},
{"d":48,"o":90,"i":90,"m":90},{"d":48.25,"o":64,"i":64,"m":61},{"d":48.5,"o":88,"i":90,"m":90},{"d":48.75,"o":97,"i":97,"m":97},
{"d":49,"o":88,"i":88,"m":88},{"d":49.25,"o":60,"i":60,"m":58},{"d":49.5,"o":86,"i":88,"m":86},{"d":49.75,"o":94,"i":94,"m":94},
{"d":50,"o":86,"i":86,"m":86},{"d":50.25,"o":60,"i":63,"m":62},{"d":50.5,"o":84,"i":86,"m":86},{"d":50.75,"o":91,"i":91,"m":92},
{"d":51,"o":86,"i":86,"m":86},{"d":51.25,"o":60,"i":70,"m":69},{"d":51.5,"o":88,"i":90,"m":90},{"d":51.75,"o":98,"i":97,"m":98},
{"d":52,"o":90,"i":90,"m":90},{"d":52.25,"o":66,"i":65,"m":64},{"d":52.5,"o":90,"i":90,"m":90},{"d":52.75,"o":99,"i":98,"m":99},
{"d":53,"o":92,"i":92,"m":92},{"d":53.25,"o":69,"i":70,"m":69},{"d":53.5,"o":92,"i":92,"m":92},{"d":53.75,"o":99,"i":98,"m":99},
{"d":54,"o":92,"i":92,"m":92},{"d":54.25,"o":72,"i":73,"m":72},{"d":54.5,"o":92,"i":92,"m":92},{"d":54.75,"o":99,"i":98,"m":99},
{"d":55,"o":92,"i":92,"m":92},{"d":55.25,"o":62,"i":64,"m":61},{"d":55.5,"o":90,"i":90,"m":90},{"d":55.75,"o":99,"i":98,"m":99},
{"d":56,"o":92,"i":92,"m":92},{"d":56.25,"o":66,"i":67,"m":65},{"d":56.5,"o":90,"i":90,"m":90},{"d":56.75,"o":99,"i":98,"m":99},
{"d":57,"o":92,"i":92,"m":92},{"d":57.25,"o":74,"i":75,"m":74},{"d":57.5,"o":92,"i":92,"m":92},{"d":57.75,"o":99,"i":98,"m":98},
{"d":58,"o":90,"i":90,"m":90},{"d":58.25,"o":62,"i":70,"m":68},{"d":58.5,"o":84,"i":88,"m":86},{"d":58.75,"o":90,"i":92,"m":91}
]
},
"vconcat": [
{
 "title": "Tanjung Priok Maritime Meteorological Station",
 "width": 878, "height": 169,
 "data": {"name": "tp"},
 "encoding": {"x": {"field": "d", "type": "quantitative", "scale": {"domain": [-1, 60], "nice": false, "zero": false},
   "axis": {"values": [0,10,20,30,40,50], "labelExpr": "[['01/01/2023','11/01/2023','21/01/2023','31/01/2023','10/02/2023','20/02/2023'][datum.value/10], '00 UTC']", "labelFontSize": 12.5, "labelLineHeight": 16, "tickSize": 3, "title": null, "labelPadding": 1, "grid": true}}},
 "resolve": {"axis": {"y": "independent"}},
 "layer": [
  {"mark": {"type": "line", "strokeWidth": 2.8}, "encoding": {"y": {"field": "o", "type": "quantitative", "scale": {"domain": [0, 100], "nice": false}, "axis": {"values": [0,25,50,75,100], "title": ["Relative", "humidity (%)"], "titleFontSize": 16, "titleFontWeight": "normal", "titlePadding": 4, "labelFontSize": 15, "tickSize": 5, "grid": true}}, "color": {"datum": "Observation", "scale": {"domain": ["Observation", "IFS", "MOS"], "range": ["#0072BD", "#D95319", "#FFD000"]}, "legend": {"orient": "none", "direction": "horizontal", "title": null, "legendX": 267, "legendY": 727}}}},
  {"mark": {"type": "line", "strokeWidth": 2.8}, "encoding": {"y": {"field": "i", "type": "quantitative", "axis": {"orient": "right", "values": [5,10,15,20,30,35,40,45,55,60,65,70,80,85,90,95], "labels": false, "ticks": false, "domain": false, "title": null, "grid": true, "gridDash": [1,3], "gridColor": "#b5b5b5"}}, "color": {"datum": "IFS"}}},
  {"mark": {"type": "line", "strokeWidth": 2.8}, "encoding": {"y": {"field": "m", "type": "quantitative", "axis": null}, "color": {"datum": "MOS"}}}
 ]
},
{
 "title": "Kemayoran Meteorological Station",
 "width": 878, "height": 168,
 "data": {"name": "km"},
 "encoding": {"x": {"field": "d", "type": "quantitative", "scale": {"domain": [-1, 60], "nice": false, "zero": false},
   "axis": {"values": [0,10,20,30,40,50], "labelExpr": "[['01/01/2023','11/01/2023','21/01/2023','31/01/2023','10/02/2023','20/02/2023'][datum.value/10], '00 UTC']", "labelFontSize": 12.5, "labelLineHeight": 16, "tickSize": 3, "title": null, "labelPadding": 1, "grid": true}}},
 "resolve": {"axis": {"y": "independent"}},
 "layer": [
  {"mark": {"type": "line", "strokeWidth": 2.8}, "encoding": {"y": {"field": "o", "type": "quantitative", "scale": {"domain": [0, 100], "nice": false}, "axis": {"values": [0,25,50,75,100], "title": ["Relative", "humidity (%)"], "titleFontSize": 16, "titleFontWeight": "normal", "titlePadding": 4, "labelFontSize": 15, "tickSize": 5, "grid": true}}, "color": {"datum": "Observation"}}},
  {"mark": {"type": "line", "strokeWidth": 2.8}, "encoding": {"y": {"field": "i", "type": "quantitative", "axis": {"orient": "right", "values": [5,10,15,20,30,35,40,45,55,60,65,70,80,85,90,95], "labels": false, "ticks": false, "domain": false, "title": null, "grid": true, "gridDash": [1,3], "gridColor": "#b5b5b5"}}, "color": {"datum": "IFS"}}},
  {"mark": {"type": "line", "strokeWidth": 2.8}, "encoding": {"y": {"field": "m", "type": "quantitative", "axis": null}, "color": {"datum": "MOS"}}}
 ]
},
{
 "title": "Halim Perdana Kusuma Meteorological Station",
 "width": 878, "height": 183,
 "data": {"name": "hp"},
 "encoding": {"x": {"field": "d", "type": "quantitative", "scale": {"domain": [-1, 60], "nice": false, "zero": false},
   "axis": {"values": [0,10,20,30,40,50], "labelExpr": "[['01/01/2023','11/01/2023','21/01/2023','31/01/2023','10/02/2023','20/02/2023'][datum.value/10], '00 UTC']", "labelFontSize": 12.5, "labelLineHeight": 16, "tickSize": 3, "title": null, "labelPadding": 1, "grid": true}}},
 "resolve": {"axis": {"y": "independent"}},
 "layer": [
  {"mark": {"type": "line", "strokeWidth": 2.8}, "encoding": {"y": {"field": "o", "type": "quantitative", "scale": {"domain": [0, 100], "nice": false}, "axis": {"values": [0,25,50,75,100], "title": ["Relative", "humidity (%)"], "titleFontSize": 16, "titleFontWeight": "normal", "titlePadding": 4, "labelFontSize": 15, "tickSize": 5, "grid": true}}, "color": {"datum": "Observation"}}},
  {"mark": {"type": "line", "strokeWidth": 2.8}, "encoding": {"y": {"field": "i", "type": "quantitative", "axis": {"orient": "right", "values": [5,10,15,20,30,35,40,45,55,60,65,70,80,85,90,95], "labels": false, "ticks": false, "domain": false, "title": null, "grid": true, "gridDash": [1,3], "gridColor": "#b5b5b5"}}, "color": {"datum": "IFS"}}},
  {"mark": {"type": "line", "strokeWidth": 2.8}, "encoding": {"y": {"field": "m", "type": "quantitative", "axis": null}, "color": {"datum": "MOS"}}}
 ]
}
]
}
